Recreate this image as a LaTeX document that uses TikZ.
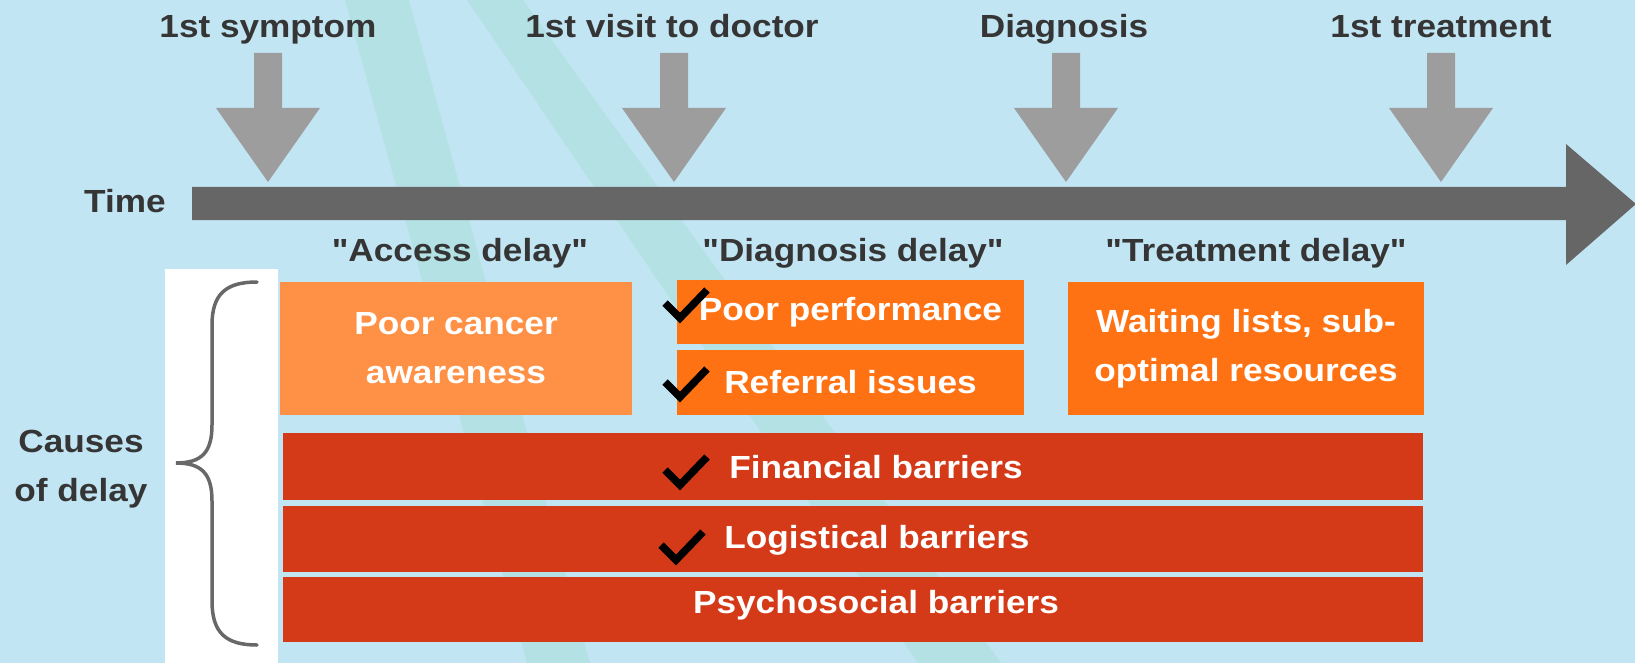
\documentclass[tikz,border=0pt]{standalone}
\usepackage{fontspec}
\setmainfont{Liberation Sans}[FakeStretch=1.1, Ligatures=TeXOff]
\definecolor{skyback}{HTML}{C2E5F3}
\definecolor{stripe}{HTML}{B4E2E4}
\definecolor{eventgray}{HTML}{9D9D9D}
\definecolor{timegray}{HTML}{666666}
\definecolor{darktext}{HTML}{353535}
\definecolor{bracegray}{HTML}{686868}
\definecolor{paleorange}{HTML}{FF9147}
\definecolor{midorange}{HTML}{FF7214}
\definecolor{barrierred}{HTML}{D43A17}
\tikzstyle{heading} = [font=\fontsize{32}{49}\selectfont\bfseries, text=darktext, inner sep=0pt, anchor=base]
\tikzstyle{causebox} = [rectangle, inner sep=0pt, text=white, align=center, font=\fontsize{32}{49}\selectfont\bfseries]
\tikzstyle{tick} = [line width=7.5pt, black, line join=miter]
\tikzstyle{brace} = [line width=3.5pt, bracegray, line cap=round]
\newcommand{\eventArrow}[1]{
	\fill[eventgray] (#1-14, 53) -- (#1+14, 53) -- (#1+14, 108) -- (#1+52, 108) -- (#1, 182) -- (#1-52, 108) -- (#1-14, 108) -- cycle;
}

\begin{document}
\begin{tikzpicture}[x=1pt, y=-1pt]
	\useasboundingbox (0, 0) rectangle (1635, 663);
	\fill[skyback] (0, 0) rectangle (1635, 663);
	\fill[stripe] (345, 0) -- (409, 0) -- (590, 663) -- (527, 663) -- cycle;
	\fill[stripe] (467, 0) -- (523, 0) -- (1001, 663) -- (918, 663) -- cycle;
	\fill[white] (165, 269) rectangle (278, 663);
	% events on the time axis
	\node (symptom) at (268, 38) [heading] {1st symptom};
	\node (visit) at (672, 38) [heading] {1st visit to doctor};
	\node (diagnosis) at (1064, 38) [heading] {Diagnosis};
	\node (treatment) at (1441, 38) [heading] {1st treatment};
	\eventArrow{268}
	\eventArrow{674}
	\eventArrow{1066}
	\eventArrow{1441}
	\fill[timegray] (192, 187) -- (1566, 187) -- (1566, 144) -- (1636, 204) -- (1566, 265) -- (1566, 220) -- (192, 220) -- cycle;
	\node (time) at (125, 212) [heading, anchor=base] {Time};
	% delays
	\node (access) at (460, 261) [heading] {"Access delay"};
	\node (diagdelay) at (853, 261) [heading] {"Diagnosis delay"};
	\node (treatdelay) at (1256, 261) [heading] {"Treatment delay"};
	% causes
	\node (causes) at (81, 469) [heading, anchor=center, align=center] {Causes\\of delay};
	\draw[brace] (257, 282) .. controls (226, 282) and (212, 294) .. (212, 325) -- (212, 425) .. controls (212, 452) and (202, 463) .. (176, 463) .. controls (202, 463) and (212, 474) .. (212, 501) -- (212, 601) .. controls (212, 633) and (226, 645) .. (257, 645);
	\node (cancer) at (456, 348.5) [causebox, fill=paleorange, minimum width=352, minimum height=133] {Poor cancer\\awareness};
	\node (performance) at (850.5, 312) [causebox, fill=midorange, minimum width=347, minimum height=64] {Poor performance};
	\node (referral) at (850.5, 382.5) [causebox, fill=midorange, minimum width=347, minimum height=65] {Referral issues};
	\node (waiting) at (1246, 348.5) [causebox, fill=midorange, minimum width=356, minimum height=133] {Waiting lists, sub-\\optimal resources};
	\node (financial) at (853, 466.5) [causebox, fill=barrierred, minimum width=1140, minimum height=67] {};
	\node (logistical) at (853, 539) [causebox, fill=barrierred, minimum width=1140, minimum height=66] {};
	\node (psychosocial) at (853, 609.5) [causebox, fill=barrierred, minimum width=1140, minimum height=65] {};
	\node (financialtext) at (876, 478) [heading, text=white] {Financial barriers};
	\node (logisticaltext) at (877, 548) [heading, text=white] {Logistical barriers};
	\node (psychosocialtext) at (876, 613) [heading, text=white] {Psychosocial barriers};
	% ticks
	\foreach \x/\y in {665/303, 665/382, 665/470, 661/545}
		\draw[tick] (\x, \y) -- ++(15, 15) -- ++(27, -28);
\end{tikzpicture}
\end{document}
